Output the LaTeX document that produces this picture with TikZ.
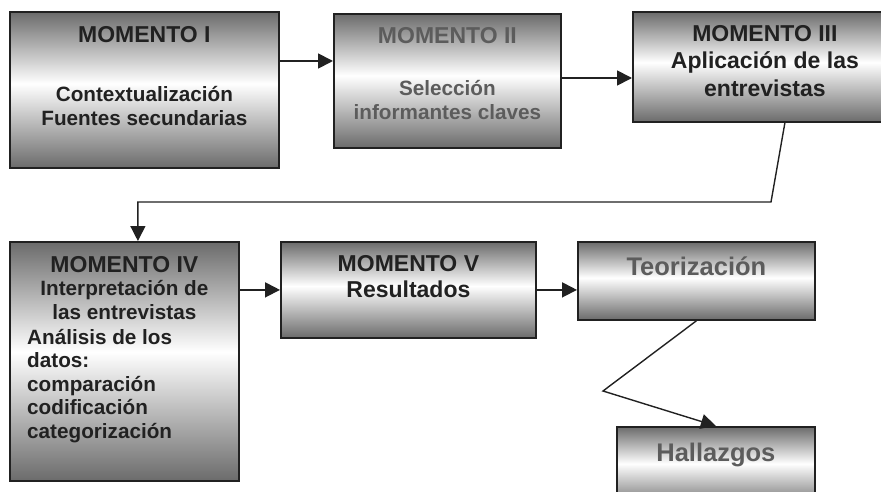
\documentclass[tikz,border=0pt]{standalone}
\usepackage{fontspec}
\setmainfont{Liberation Sans}
\usetikzlibrary{arrows.meta,positioning}
\definecolor{boxdark}{gray}{0.42}
\definecolor{ink}{gray}{0.13}
\definecolor{greyink}{gray}{0.36}
\pgfdeclareverticalshading{boxgrad}{100bp}{color(0bp)=(boxdark); color(25bp)=(boxdark); color(52bp)=(white); color(75bp)=(boxdark); color(100bp)=(boxdark)}

\begin{document}
\begin{tikzpicture}[x=1pt, y=-1pt,
	box/.style={rectangle, draw=ink, line width=1.8pt, shade, shading=boxgrad, inner sep=0pt, anchor=north west},
	head/.style={font=\fontsize{23}{27.5}\selectfont\bfseries, text=ink, align=center, inner sep=0pt},
	body/.style={font=\fontsize{20.7}{23.5}\selectfont\bfseries, text=ink, align=center, inner sep=0pt},
	title/.style={font=\fontsize{25.5}{30}\selectfont\bfseries, text=greyink, inner sep=0pt, anchor=base},
	link/.style={line width=1.8pt, draw=ink, -{Triangle[length=15pt, width=15pt]}}]
	\useasboundingbox (0,0) rectangle (881,492);
	\clip (0,0) rectangle (881,492);
	% boxes
	\node[box, minimum width=269, minimum height=156] (m1) at (9,11) {};
	\node[box, minimum width=227, minimum height=134] (m2) at (333,13) {};
	\node[box, minimum width=264, minimum height=110] (m3) at (632,11) {};
	\node[box, minimum width=229, minimum height=239] (m4) at (9,241) {};
	\node[box, minimum width=255, minimum height=96] (m5) at (280,241) {};
	\node[box, minimum width=237, minimum height=78] (teo) at (577,241) {};
	\node[box, minimum width=198, minimum height=80] (hal) at (616,426) {};
	% texts
	\node[body, below=15pt of m1.north] (m1t) {{\fontsize{23}{24}\selectfont MOMENTO I}\\[36pt]Contextualización\\Fuentes secundarias};
	\node[body, text=greyink, below=14pt of m2.north] (m2t) {{\fontsize{23}{23}\selectfont MOMENTO II}\\[29pt]Selección\\informantes claves};
	\node[head, below=14pt of m3.north] (m3t) {MOMENTO III\\Aplicación de las\\entrevistas};
	\node[body, below=15pt of m4.north] (m4a) {{\fontsize{23}{23.5}\selectfont MOMENTO IV}\\Interpretación de\\las entrevistas};
	\node[body, align=left, anchor=north west] (m4b) at ([xshift=18pt, yshift=-88pt]m4.north west) {Análisis de los\\datos:\\comparación\\codificación\\categorización};
	\node[head, font=\fontsize{23}{26}\selectfont\bfseries, below=14pt of m5.north] (m5t) {MOMENTO V\\Resultados};
	\node[title] (teot) at ([yshift=-34pt]teo.north) {Teorización};
	\node[title] (halt) at ([yshift=-35pt]hal.north) {Hallazgos};
	% connectors
	\coordinate (bend) at (771,202);
	\coordinate (drop) at ([xshift=13.5pt]m4.north);
	\coordinate (knee) at (603,391);
	\draw[link] ([yshift=-50pt]m1.north east) -- ([yshift=-50pt]m1.north east -| m2.west);
	\draw[link] ([yshift=-65pt]m2.north east) -- ([yshift=-65pt]m2.north east -| m3.west);
	\draw[link, line width=1.4pt] ([xshift=20pt]m3.south) -- (bend) -- (drop |- bend) -- (drop);
	\draw[link] (m4.east |- m5.west) -- (m5.west);
	\draw[link] (m5.east) -- (m5.east -| teo.west);
	\draw[link, line width=1.4pt] (teo.south) -- (knee) -- (hal.north);
\end{tikzpicture}
\end{document}
